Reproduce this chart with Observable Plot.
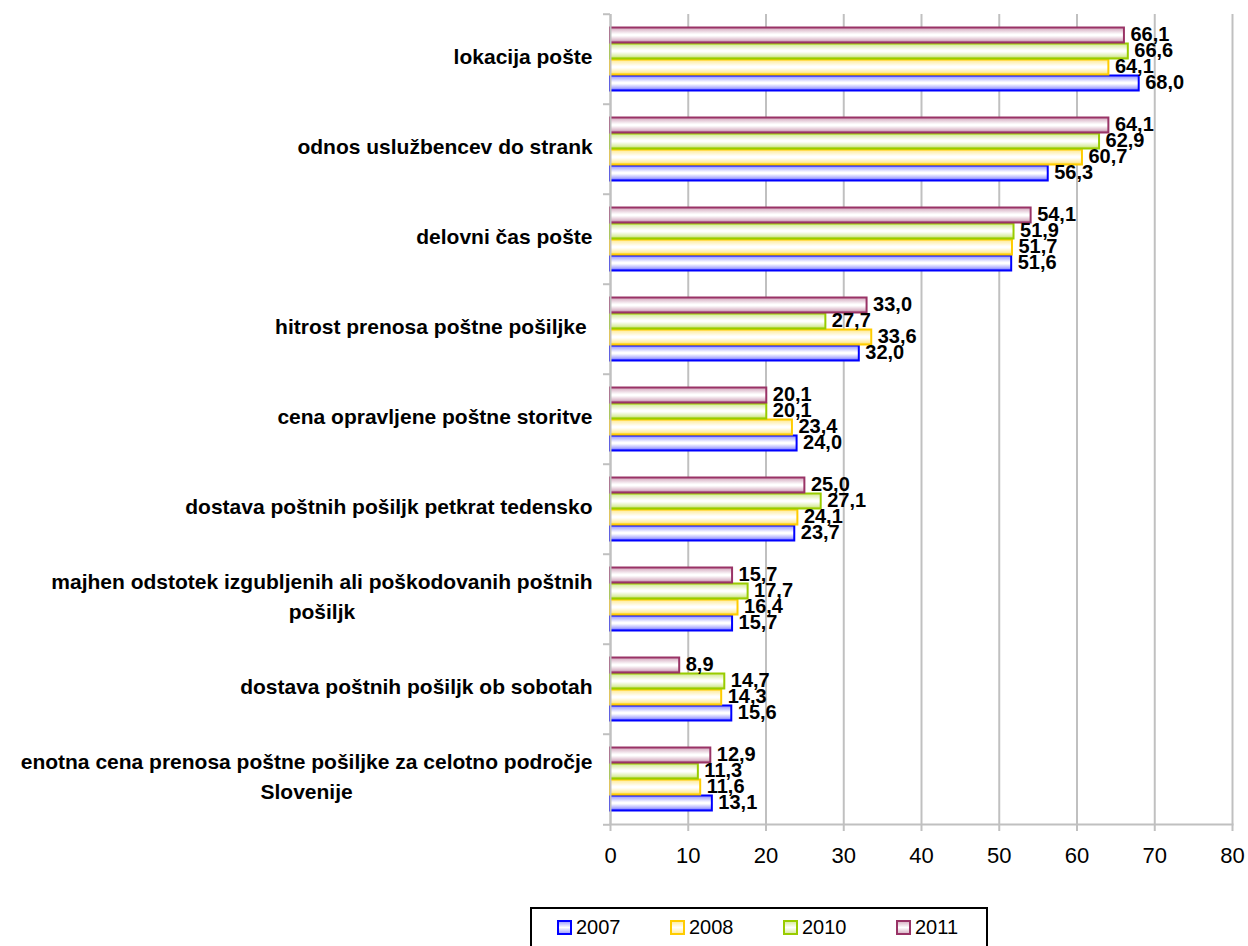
<!DOCTYPE html>
<html>
<head>
<meta charset="utf-8">
<script src="https://cdn.jsdelivr.net/npm/d3@7"></script>
<script src="https://cdn.jsdelivr.net/npm/@observablehq/plot@0.6"></script>
<style>
  html, body { margin: 0; padding: 0; background: #fff; }
  body { width: 1248px; height: 946px; position: relative; overflow: hidden; font-family: "Liberation Sans", Arial, sans-serif; }
  svg text { white-space: pre; }
  #legend {
    position: absolute; left: 530px; top: 907px; width: 454px; height: 50px;
    border: 2px solid #000; box-sizing: content-box;
  }
  #legend .item { position: absolute; top: 7px; display: flex; align-items: center; font-size: 20px; color: #000; }
  #legend .sw { width: 11px; height: 11px; border: 2px solid; margin-right: 4px; }
</style>
</head>
<body>
<div id="chart"></div>
<div id="legend"></div>
<script>
// Survey categories, top to bottom
const categories = [
  "lokacija pošte",
  "odnos uslužbencev do strank",
  "delovni čas pošte",
  "hitrost prenosa poštne pošiljke ",
  "cena opravljene poštne storitve",
  "dostava poštnih pošiljk petkrat tedensko",
  "majhen odstotek izgubljenih ali poškodovanih poštnih\npošiljk",
  "dostava poštnih pošiljk ob sobotah",
  "enotna cena prenosa poštne pošiljke za celotno področje\nSlovenije"
];

const years = ["2007", "2008", "2010", "2011"];

// Percentages per year, in category order
const values2007 = [68.0, 56.3, 51.6, 32.0, 24.0, 23.7, 15.7, 15.6, 13.1];
const values2008 = [64.1, 60.7, 51.7, 33.6, 23.4, 24.1, 16.4, 14.3, 11.6];
const values2010 = [66.6, 62.9, 51.9, 27.7, 20.1, 27.1, 17.7, 14.7, 11.3];
const values2011 = [66.1, 64.1, 54.1, 33.0, 20.1, 25.0, 15.7, 8.9, 12.9];

const yearColors = ["#0000ff", "#ffcc00", "#99cc00", "#993366"];
const xTicks = [0, 10, 20, 30, 40, 50, 60, 70, 80];

const seriesByYear = [values2007, values2008, values2010, values2011];
const colorOf = new Map(years.map((y, i) => [y, yearColors[i]]));
const gradOf = y => `url(#grad-${y})`;

const rows = [];
categories.forEach((c, ci) => {
  years.forEach((y, yi) => rows.push({category: c, year: y, value: seriesByYear[yi][ci]}));
});

const fmt = v => v.toFixed(1).replace(".", ",");

const W = 1248, H = 890, mT = 11, mB = 64, mL = 610, mR = 16;
const step = (H - mT - mB) / categories.length;
const grey = "#c0c0c0";

const svg = Plot.plot({
  width: W,
  height: H,
  marginTop: mT,
  marginBottom: mB,
  marginLeft: mL,
  marginRight: mR,
  style: {fontFamily: "'Liberation Sans', Arial, sans-serif", background: "#fff", color: "#000"},
  x: {domain: [0, 80], label: null},
  y: {domain: ["2011", "2010", "2008", "2007"], paddingInner: 0, paddingOuter: 0.66, axis: null},
  fy: {domain: categories, padding: 0, axis: null, label: null},
  color: {type: "identity"},
  marks: [
    Plot.gridX({ticks: xTicks, stroke: grey, strokeOpacity: 1, strokeWidth: 2}),
    Plot.barX(rows, {
      x: "value", y: "year", fy: "category",
      fill: d => gradOf(d.year), stroke: d => colorOf.get(d.year), strokeWidth: 2,
      insetTop: 0.5, insetBottom: 0.5
    }),
    Plot.text(rows, {
      x: "value", y: "year", fy: "category", text: d => fmt(d.value),
      textAnchor: "start", dx: 6, dy: -1, fontWeight: "bold", fontSize: 20, fill: "#000"
    }),
    Plot.ruleX([0], {stroke: grey, strokeWidth: 2}),
    Plot.frame({anchor: "bottom", facetAnchor: "bottom", stroke: grey, strokeWidth: 2}),
    Plot.axisX({ticks: xTicks, tickSize: 7, tickPadding: 16, fontSize: 22, stroke: grey, strokeWidth: 2, label: null}),
    Plot.axisFy({anchor: "left", tickSize: 0, tickPadding: 18, dy: -5, fontSize: 21, fontWeight: "bold", label: null, lineHeight: 1.4}),
    Plot.axisFy({anchor: "left", tickSize: 7, tickPadding: 0, dy: -step / 2, tickFormat: () => "", stroke: grey, strokeWidth: 2, label: null}),
    Plot.axisFy({anchor: "left", ticks: [categories[categories.length - 1]], tickSize: 7, tickPadding: 0, dy: step / 2, tickFormat: () => "", stroke: grey, strokeWidth: 2, label: null})
  ]
});

// Bar shading: coloured edges fading to white in the middle
const defs = d3.select(svg).insert("defs", ":first-child");
years.forEach(y => {
  const c = colorOf.get(y);
  const g = defs.append("linearGradient").attr("id", `grad-${y}`)
    .attr("x1", 0).attr("y1", 0).attr("x2", 0).attr("y2", 1);
  [[0, 0.45], [0.45, 0], [0.55, 0], [0.85, 0.35], [1, 0.75]].forEach(([o, a]) => {
    g.append("stop").attr("offset", o).attr("stop-color", d3.interpolateRgb("#ffffff", c)(a));
  });
});

document.getElementById("chart").appendChild(svg);

// Category labels: each line centred within its own block
d3.select(svg).selectAll('g[aria-label="fy-axis tick label"] text').each(function () {
  const b = this.getBBox();
  const cx = b.x + b.width / 2;
  this.setAttribute("text-anchor", "middle");
  const t = this.getAttribute("transform") || "";
  this.setAttribute("transform", `${t} translate(${cx},0)`);
});

// Legend
const legend = d3.select("#legend");
years.forEach((y, i) => {
  const c = colorOf.get(y);
  const item = legend.append("div").attr("class", "item").style("left", `${25 + i * 113}px`);
  item.append("div").attr("class", "sw")
    .style("border-color", c)
    .style("background", `linear-gradient(to bottom, ${d3.interpolateRgb("#fff", c)(0.35)}, #fff 50%, ${d3.interpolateRgb("#fff", c)(0.35)})`);
  item.append("span").text(y);
});
</script>
</body>
</html>
